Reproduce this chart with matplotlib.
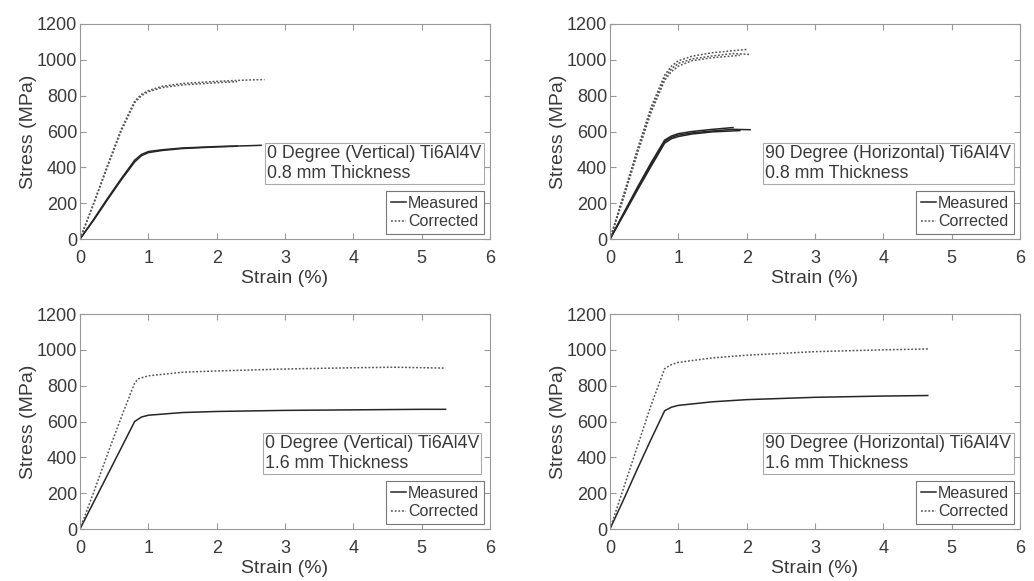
import numpy as np
import matplotlib.pyplot as plt

plt.rcParams['font.family'] = ['Liberation Sans', 'DejaVu Sans']

# panel titles (text box)
titles = ['0 Degree (Vertical) Ti6Al4V\n0.8 mm Thickness',
          '90 Degree (Horizontal) Ti6Al4V\n0.8 mm Thickness',
          '0 Degree (Vertical) Ti6Al4V\n1.6 mm Thickness',
          '90 Degree (Horizontal) Ti6Al4V\n1.6 mm Thickness']

# strain (%) / stress (MPa), a few specimens per panel
# panel 1: 0 deg, 0.8 mm
p1_meas = [
    ([0, 0.2, 0.4, 0.6, 0.8, 0.9, 1.0, 1.2, 1.5, 2.0, 2.5, 2.65],
     [0, 110, 225, 335, 440, 472, 488, 498, 508, 516, 521, 523]),
    ([0, 0.2, 0.4, 0.6, 0.8, 0.9, 1.0, 1.2, 1.5, 2.0, 2.3],
     [0, 105, 218, 328, 430, 465, 482, 494, 505, 514, 518]),
]
p1_corr = [
    ([0, 0.2, 0.4, 0.6, 0.8, 0.9, 1.0, 1.2, 1.5, 2.0, 2.5, 2.7],
     [0, 200, 410, 610, 770, 808, 828, 852, 868, 880, 888, 890]),
    ([0, 0.2, 0.4, 0.6, 0.8, 0.9, 1.0, 1.2, 1.5, 2.0, 2.3],
     [0, 195, 400, 600, 760, 800, 822, 845, 860, 872, 878]),
]
# panel 2: 90 deg, 0.8 mm
p2_meas = [
    ([0, 0.2, 0.4, 0.6, 0.8, 0.9, 1.0, 1.2, 1.5, 1.8, 2.05],
     [0, 140, 280, 415, 545, 568, 580, 592, 603, 612, 610]),
    ([0, 0.2, 0.4, 0.6, 0.8, 0.9, 1.0, 1.2, 1.5, 1.9],
     [0, 135, 272, 405, 535, 560, 572, 586, 598, 605]),
    ([0, 0.2, 0.4, 0.6, 0.8, 0.9, 1.0, 1.2, 1.5, 1.8],
     [0, 145, 288, 425, 552, 575, 588, 600, 612, 622]),
]
p2_corr = [
    ([0, 0.2, 0.4, 0.6, 0.8, 0.9, 1.0, 1.2, 1.5, 1.8, 2.05],
     [0, 240, 490, 720, 900, 950, 980, 1005, 1022, 1035, 1030]),
    ([0, 0.2, 0.4, 0.6, 0.8, 0.9, 1.0, 1.2, 1.5, 1.9],
     [0, 230, 475, 705, 885, 935, 965, 995, 1012, 1025]),
    ([0, 0.2, 0.4, 0.6, 0.8, 0.9, 1.0, 1.2, 1.5, 2.0],
     [0, 250, 500, 735, 915, 965, 995, 1020, 1040, 1058]),
]
# panel 3: 0 deg, 1.6 mm
p3_meas = [
    ([0, 0.2, 0.4, 0.6, 0.8, 0.9, 1.0, 1.5, 2.0, 3.0, 4.0, 5.0, 5.35],
     [0, 150, 300, 450, 600, 625, 635, 650, 656, 662, 665, 668, 668]),
]
p3_corr = [
    ([0, 0.2, 0.4, 0.6, 0.8, 0.85, 1.0, 1.5, 2.0, 3.0, 4.0, 4.6, 5.35],
     [0, 205, 415, 620, 815, 838, 855, 875, 882, 893, 900, 903, 898]),
]
# panel 4: 90 deg, 1.6 mm
p4_meas = [
    ([0, 0.2, 0.4, 0.6, 0.8, 0.9, 1.0, 1.5, 2.0, 3.0, 4.0, 4.65],
     [0, 165, 335, 500, 660, 680, 690, 710, 722, 735, 742, 745]),
]
p4_corr = [
    ([0, 0.2, 0.4, 0.6, 0.8, 0.9, 1.0, 1.5, 2.0, 3.0, 4.0, 4.65],
     [0, 230, 460, 690, 895, 918, 930, 955, 970, 990, 1000, 1005]),
]

meas_all = [p1_meas, p2_meas, p3_meas, p4_meas]
corr_all = [p1_corr, p2_corr, p3_corr, p4_corr]
box_x = [0.449, 0.371, 0.443, 0.371]

fig = plt.figure(figsize=(10.34, 5.81), dpi=100)
W, H = 1034, 581
rects = [(80, 24), (610, 24), (80, 314), (610, 314)]
txt = '#3a3a3a'

for i in range(4):
    x0, y0 = rects[i]
    ax = fig.add_axes([x0 / W, 1 - (y0 + 215) / H, 410 / W, 215 / H])
    for k, (s, st) in enumerate(meas_all[i]):
        ax.plot(s, st, color='#262626', lw=1.1,
                label='Measured' if k == 0 else None)
    for k, (s, st) in enumerate(corr_all[i]):
        ax.plot(s, st, color='#555555', lw=1.1, ls=(0, (1.2, 1.2)),
                label='Corrected' if k == 0 else None)
    ax.set_xlim(0, 6)
    ax.set_ylim(0, 1200)
    ax.set_xticks(range(0, 7))
    ax.set_yticks(range(0, 1201, 200))
    ax.tick_params(direction='in', top=True, right=True, labelsize=13,
                   colors='#999999', labelcolor=txt, length=4)
    ax.tick_params(axis='x', pad=8)
    ax.tick_params(axis='y', pad=2)
    for sp in ax.spines.values():
        sp.set_color('#999999')
    ax.set_xlabel('Strain (%)', fontsize=14, color=txt, labelpad=2)
    ax.set_ylabel('Stress (MPa)', fontsize=14, color=txt, labelpad=0)
    ax.text(box_x[i] + 0.008, 0.435, titles[i], transform=ax.transAxes,
            ha='left', va='top', fontsize=12.8, color=txt, linespacing=1.2,
            bbox=dict(boxstyle='square,pad=0.12', fc='white', ec='#aaaaaa', lw=0.8))
    leg = ax.legend(loc='lower right', bbox_to_anchor=(0.985, 0.023),
                    fontsize=11.5, handlelength=0.9, handletextpad=0.15,
                    borderpad=0.3, labelspacing=0.2, borderaxespad=0,
                    fancybox=False, framealpha=1)
    leg.get_frame().set_edgecolor('#777777')
    leg.get_frame().set_linewidth(0.8)
    for t in leg.get_texts():
        t.set_color(txt)

fig.savefig('out.png', dpi=100)
